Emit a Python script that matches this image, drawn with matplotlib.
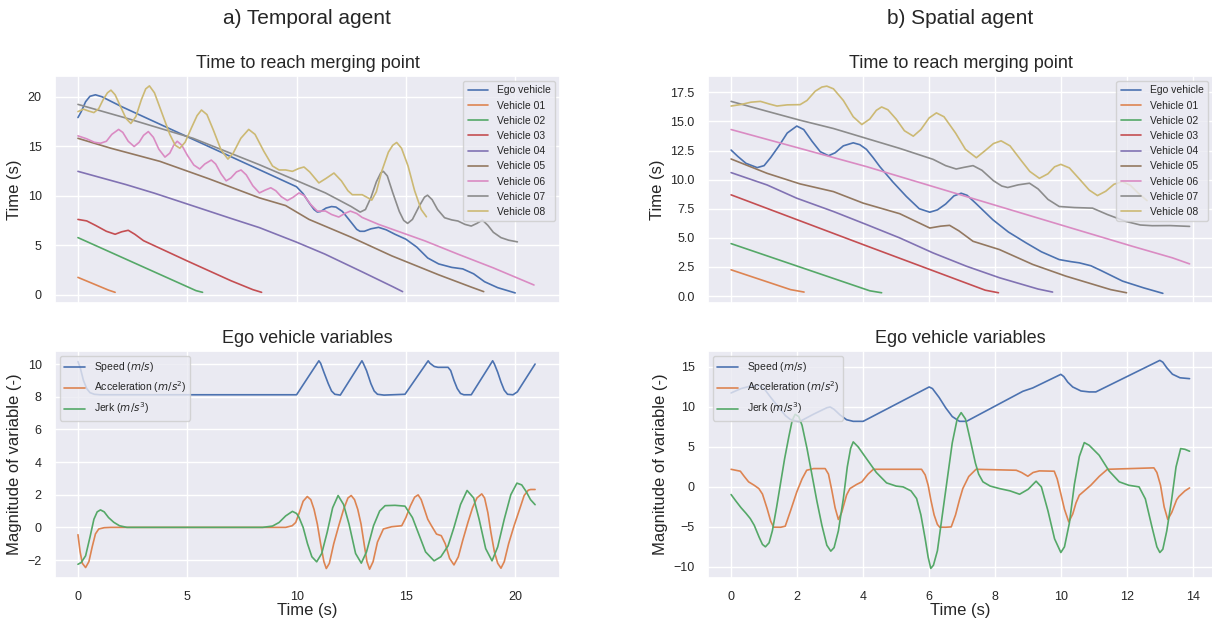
import matplotlib
matplotlib.use("Agg")
import matplotlib.pyplot as plt
import seaborn as sns

# ---- a) Temporal agent: time to reach merging point ----
TL_EGO_T = [0, 0.15, 0.35, 0.55, 0.8, 1.1, 1.5, 2, 4, 6, 8, 10.0, 10.3, 10.6, 10.8, 10.95, 11.1, 11.35, 11.6, 11.8, 12.1, 12.5, 12.75, 12.9, 13.1, 13.4, 13.75, 14.1, 14.5, 15.0, 15.5, 16.0, 16.5, 17.1, 17.6, 18.1, 18.6, 19.2, 20.0]
TL_EGO = [17.9, 18.5, 19.5, 20.05, 20.2, 20.0, 19.55, 19.0, 16.97, 14.95, 12.93, 10.9, 10.2, 9.2, 8.6, 8.35, 8.4, 8.75, 8.9, 8.85, 8.4, 7.3, 6.6, 6.4, 6.4, 6.65, 6.8, 6.55, 6.1, 5.6, 4.8, 3.7, 3.1, 2.75, 2.6, 2.1, 1.3, 0.7, 0.17]
TL_V01_T = [0, 1.4, 1.7]
TL_V01 = [1.74, 0.45, 0.23]
TL_V02_T = [0, 5.4, 5.7]
TL_V02 = [5.76, 0.4, 0.23]
TL_V03_T = [0, 0.4, 0.8, 1.3, 1.7, 2.0, 2.3, 2.6, 3.0, 5.0, 7.0, 8.0, 8.4]
TL_V03 = [7.6, 7.45, 7.0, 6.4, 6.1, 6.35, 6.5, 6.1, 5.45, 3.4, 1.4, 0.5, 0.23]
TL_V04_T = [0, 1, 2.2, 3.5, 5.3, 7, 8.3, 10, 11.3, 13, 14.4, 14.85]
TL_V04 = [12.46, 11.85, 11.12, 10.25, 8.94, 7.7, 6.77, 5.3, 4.09, 2.3, 0.8, 0.3]
TL_V05_T = [0, 1.5, 3.75, 6, 8.3, 9.5, 10.57, 12.5, 14.35, 16.5, 18.0, 18.56]
TL_V05 = [15.8, 14.8, 13.47, 11.7, 9.78, 9.0, 7.6, 5.8, 3.92, 2.0, 0.75, 0.3]
TL_V06_T = [0, 0.4, 0.75, 1.03, 1.3, 1.55, 1.86, 2.05, 2.3, 2.57, 2.8, 3.0, 3.22, 3.45, 3.7, 3.98, 4.2, 4.38, 4.54, 4.75, 5.0, 5.3, 5.57, 5.8, 6.1, 6.3, 6.55, 6.78, 7.0, 7.25, 7.46, 7.7, 8.0, 8.3, 8.55, 8.82, 9.05, 9.3, 9.58, 9.85, 10.11, 10.35, 10.65, 10.95, 11.32, 11.6, 11.93, 12.2, 12.46, 12.75, 13.0, 13.75, 15.87, 17.38, 19.0, 20.86]
TL_V06 = [16.05, 15.75, 15.4, 15.3, 15.5, 16.2, 16.7, 16.4, 15.5, 14.97, 15.4, 16.1, 16.48, 15.9, 14.7, 13.9, 14.3, 15.1, 15.5, 15.1, 14.1, 13.1, 12.7, 13.2, 13.6, 13.2, 12.2, 11.5, 11.8, 12.4, 12.6, 12.1, 11.0, 10.28, 10.55, 10.8, 10.5, 9.9, 9.51, 9.85, 10.28, 10.0, 9.1, 8.44, 8.45, 8.1, 7.84, 8.2, 8.44, 8.2, 7.8, 7.1, 5.43, 4.09, 2.7, 0.97]
TL_V07_T = [0, 2.24, 5.27, 8.3, 11.32, 12.5, 12.91, 13.15, 13.4, 13.65, 13.85, 13.97, 14.15, 14.4, 14.7, 14.9, 15.08, 15.3, 15.6, 15.85, 15.99, 16.2, 16.45, 16.77, 17.1, 17.38, 17.7, 17.99, 18.25, 18.5, 18.75, 19.0, 19.35, 19.7, 20.1]
TL_V07 = [19.23, 17.82, 15.8, 13.13, 10.28, 8.9, 8.34, 8.6, 9.8, 11.4, 12.3, 12.46, 12.0, 10.3, 8.4, 7.5, 7.2, 7.6, 8.9, 9.85, 10.05, 9.6, 8.6, 7.77, 7.55, 7.44, 7.1, 6.93, 7.2, 7.54, 7.0, 6.3, 5.76, 5.5, 5.33]
TL_V08_T = [0, 0.25, 0.5, 0.73, 0.95, 1.15, 1.35, 1.51, 1.7, 1.95, 2.2, 2.42, 2.65, 2.9, 3.1, 3.27, 3.5, 3.8, 4.2, 4.45, 4.66, 4.9, 5.2, 5.45, 5.65, 5.9, 6.2, 6.55, 6.86, 7.1, 7.45, 7.81, 8.1, 8.5, 8.9, 9.2, 9.5, 9.81, 10.1, 10.34, 10.6, 11.02, 11.35, 11.71, 12.05, 12.35, 12.55, 13.0, 13.25, 13.44, 13.65, 13.9, 14.2, 14.4, 14.58, 14.8, 15.1, 15.4, 15.7, 15.94]
TL_V08 = [18.5, 18.75, 18.55, 18.4, 18.8, 19.7, 20.4, 20.67, 20.2, 19.0, 17.8, 17.3, 18.0, 19.7, 20.8, 21.1, 20.4, 18.6, 16.2, 15.1, 14.8, 15.4, 16.9, 18.1, 18.66, 18.2, 16.6, 14.6, 13.7, 14.3, 15.8, 16.7, 16.2, 14.5, 13.0, 12.6, 12.6, 12.46, 12.75, 12.9, 12.4, 11.29, 11.75, 12.29, 11.5, 10.5, 10.1, 10.1, 9.8, 9.55, 10.4, 12.5, 14.4, 15.1, 15.38, 14.8, 13.0, 10.5, 8.6, 7.87]

# ---- b) Spatial agent: time to reach merging point ----
TR_EGO_T = [0, 0.2, 0.45, 0.79, 1.0, 1.2, 1.45, 1.7, 1.99, 2.2, 2.45, 2.7, 2.95, 3.15, 3.4, 3.7, 3.9, 4.1, 4.3, 4.51, 4.9, 5.31, 5.7, 6.02, 6.25, 6.5, 6.75, 6.97, 7.15, 7.4, 7.93, 8.4, 8.94, 9.4, 9.94, 10.3, 10.55, 10.9, 11.2, 11.86, 12.5, 13.08]
TR_EGO = [12.54, 12.0, 11.4, 11.03, 11.2, 11.9, 12.9, 14.0, 14.6, 14.3, 13.3, 12.4, 12.05, 12.3, 12.9, 13.16, 13.0, 12.6, 11.9, 11.1, 9.8, 8.55, 7.5, 7.2, 7.4, 7.9, 8.6, 8.83, 8.65, 8.0, 6.55, 5.5, 4.56, 3.8, 3.13, 2.95, 2.85, 2.6, 2.2, 1.28, 0.7, 0.23]
TR_V01_T = [0, 1.8, 2.21]
TR_V01 = [2.25, 0.55, 0.34]
TR_V02_T = [0, 4.2, 4.56]
TR_V02 = [4.5, 0.45, 0.28]
TR_V03_T = [0, 4.11, 7.7, 8.1]
TR_V03 = [8.69, 4.3, 0.5, 0.28]
TR_V04_T = [0, 1.09, 1.99, 3.1, 4.11, 5.11, 6.12, 7.13, 8.13, 9.3, 9.74]
TR_V04 = [10.6, 9.54, 8.4, 7.26, 6.13, 4.99, 3.7, 2.56, 1.57, 0.6, 0.34]
TR_V05_T = [0, 1.09, 2.09, 3.1, 4.0, 5.11, 6.02, 6.35, 6.62, 6.9, 7.33, 8.13, 9.14, 10.14, 11.5, 11.98]
TR_V05 = [11.77, 10.54, 9.63, 8.97, 7.98, 7.07, 5.84, 6.0, 6.07, 5.6, 4.7, 3.99, 2.71, 1.71, 0.55, 0.28]
TR_V06_T = [0, 2.09, 4.11, 6.12, 8.13, 10.14, 12.16, 13.37, 13.89]
TR_V06 = [14.3, 12.68, 11.11, 9.4, 7.69, 5.98, 4.27, 3.28, 2.76]
TR_V07_T = [0, 1.09, 2.09, 3.1, 4.11, 5.11, 6.12, 6.5, 6.82, 7.05, 7.33, 7.6, 7.95, 8.2, 8.38, 8.7, 9.04, 9.3, 9.6, 9.94, 10.4, 10.95, 11.4, 11.96, 12.4, 12.76, 13.3, 13.89]
TR_V07 = [16.72, 15.87, 15.1, 14.39, 13.53, 12.68, 11.74, 11.2, 10.91, 11.05, 11.2, 10.8, 9.9, 9.45, 9.32, 9.55, 9.69, 9.2, 8.3, 7.69, 7.6, 7.55, 7.0, 6.41, 6.1, 6.04, 6.05, 5.98]
TR_V08_T = [0, 0.3, 0.6, 0.89, 1.15, 1.39, 1.7, 2.09, 2.3, 2.55, 2.75, 2.9, 3.1, 3.4, 3.7, 3.96, 4.2, 4.4, 4.56, 4.75, 5.0, 5.25, 5.52, 5.75, 6.0, 6.22, 6.45, 6.8, 7.1, 7.43, 7.7, 7.95, 8.18, 8.45, 8.8, 9.05, 9.34, 9.6, 9.8, 9.99, 10.25, 10.6, 10.85, 11.1, 11.35, 11.6, 11.86, 12.1, 12.35, 12.6]
TR_V08 = [16.32, 16.45, 16.65, 16.72, 16.5, 16.32, 16.42, 16.44, 16.8, 17.6, 17.95, 18.03, 17.8, 16.8, 15.4, 14.73, 15.2, 15.95, 16.24, 16.0, 15.2, 14.2, 13.73, 14.3, 15.3, 15.73, 15.4, 14.0, 12.6, 11.88, 12.5, 13.1, 13.33, 12.9, 11.6, 10.7, 10.11, 10.5, 11.1, 11.31, 11.0, 9.9, 9.1, 8.63, 9.0, 9.6, 9.83, 9.5, 8.8, 8.2]

VEHICLE_LABELS = ["Ego vehicle", "Vehicle 01", "Vehicle 02", "Vehicle 03", "Vehicle 04",
                  "Vehicle 05", "Vehicle 06", "Vehicle 07", "Vehicle 08"]

# ---- a) Temporal agent: ego variables ----
BL_SPEED_T = [0, 0.1, 0.25, 0.4, 0.55, 0.75, 1.0, 10.0, 11.02, 11.1, 11.25, 11.45, 11.6, 11.75, 12.0, 12.99, 13.05, 13.2, 13.4, 13.55, 13.7, 14.0, 14.96, 16.02, 16.1, 16.3, 16.47, 16.93, 17.05, 17.2, 17.35, 17.5, 17.65, 17.99, 18.97, 19.05, 19.2, 19.35, 19.5, 19.65, 19.9, 20.1, 20.91]
BL_SPEED = [10.15, 9.8, 9.0, 8.5, 8.25, 8.15, 8.12, 8.12, 10.2, 10.05, 9.5, 8.8, 8.35, 8.15, 8.1, 10.2, 10.05, 9.6, 8.8, 8.35, 8.15, 8.1, 8.15, 10.2, 10.05, 9.85, 9.8, 9.8, 9.6, 9.0, 8.5, 8.2, 8.12, 8.12, 10.2, 10.0, 9.5, 8.9, 8.4, 8.15, 8.12, 8.3, 10.0]
BL_ACC_T = [0, 0.1, 0.2, 0.35, 0.5, 0.65, 0.8, 0.95, 1.2, 1.5, 9.5, 9.8, 9.96, 10.15, 10.3, 10.49, 10.65, 10.8, 10.95, 11.1, 11.25, 11.36, 11.5, 11.7, 11.93, 12.15, 12.35, 12.5, 12.65, 12.8, 12.95, 13.1, 13.22, 13.34, 13.5, 13.7, 13.97, 14.35, 14.81, 15.0, 15.2, 15.4, 15.56, 15.7, 15.85, 16.0, 16.17, 16.4, 16.62, 16.8, 17.0, 17.2, 17.4, 17.6, 17.84, 18.05, 18.25, 18.47, 18.6, 18.75, 18.89, 19.05, 19.2, 19.35, 19.5, 19.7, 19.95, 20.2, 20.41, 20.6, 20.71, 20.91]
BL_ACC = [-0.45, -1.5, -2.2, -2.46, -2.1, -1.2, -0.4, -0.1, -0.02, 0, 0, 0.1, 0.3, 1.0, 1.6, 1.89, 1.7, 1.1, 0.2, -1.0, -2.1, -2.52, -2.2, -1.0, 0.1, 1.1, 1.8, 1.95, 1.7, 1.1, 0.2, -1.1, -2.1, -2.56, -2.1, -0.9, -0.1, 0.04, 0.1, 0.6, 1.3, 1.85, 1.99, 1.7, 1.1, 0.5, 0.1, -0.41, -0.51, -1.0, -1.9, -2.3, -1.8, -0.8, 0.31, 1.2, 1.8, 2.05, 1.8, 0.9, -0.31, -1.5, -2.2, -2.5, -2.1, -1.0, 0.1, 1.1, 1.95, 2.28, 2.32, 2.32]
BL_JERK_T = [0, 0.15, 0.35, 0.55, 0.73, 0.88, 1.03, 1.2, 1.4, 1.64, 1.9, 2.24, 8.45, 8.9, 9.2, 9.5, 9.81, 10.0, 10.11, 10.3, 10.5, 10.7, 10.92, 11.15, 11.4, 11.65, 11.9, 12.15, 12.4, 12.7, 12.96, 13.2, 13.52, 13.8, 14.05, 14.5, 14.96, 15.3, 15.56, 15.9, 16.29, 16.6, 16.93, 17.2, 17.5, 17.8, 18.1, 18.35, 18.65, 18.94, 19.2, 19.5, 19.8, 20.08, 20.3, 20.5, 20.7, 20.91]
BL_JERK = [-2.26, -2.15, -1.74, -0.6, 0.5, 0.95, 1.07, 0.95, 0.6, 0.31, 0.1, 0, 0, 0.08, 0.3, 0.7, 0.98, 0.85, 0.62, 0.0, -1.0, -1.8, -2.11, -1.6, -0.3, 1.2, 1.95, 1.4, 0.2, -1.6, -2.19, -1.5, 0.1, 1.0, 1.33, 1.35, 1.3, 0.6, -0.31, -1.5, -2.05, -1.8, -1.13, 0.0, 1.4, 2.26, 1.8, 0.5, -1.3, -2.05, -1.2, 0.5, 2.0, 2.71, 2.6, 2.2, 1.7, 1.39]

# ---- b) Spatial agent: ego variables ----
BR_SPEED_T = [0, 0.3, 0.58, 0.84, 1.0, 1.2, 1.45, 1.65, 1.79, 2.0, 2.09, 2.5, 2.9, 3.0, 3.12, 3.3, 3.5, 3.7, 4.0, 6.0, 6.1, 6.3, 6.5, 6.7, 6.92, 7.13, 8.84, 9.14, 9.99, 10.08, 10.2, 10.35, 10.6, 10.85, 11.05, 12.99, 13.08, 13.2, 13.37, 13.6, 13.89]
BR_SPEED = [11.75, 12.3, 12.6, 12.7, 12.3, 11.2, 9.9, 8.9, 8.45, 8.2, 8.2, 9.1, 9.9, 10.0, 9.7, 9.0, 8.4, 8.2, 8.2, 12.5, 12.3, 11.2, 9.9, 8.8, 8.2, 8.2, 11.96, 12.38, 14.08, 13.8, 13.1, 12.5, 12.0, 11.88, 11.88, 15.83, 15.6, 14.9, 14.1, 13.65, 13.54]
BR_ACC_T = [0, 0.28, 0.4, 0.53, 0.7, 0.84, 0.95, 1.09, 1.2, 1.29, 1.5, 1.64, 1.8, 1.99, 2.15, 2.29, 2.5, 2.85, 2.95, 3.05, 3.15, 3.25, 3.35, 3.5, 3.6, 3.8, 3.96, 4.15, 4.31, 5.77, 5.88, 5.97, 6.05, 6.15, 6.25, 6.32, 6.5, 6.67, 6.8, 6.92, 7.02, 7.2, 7.42, 8.64, 8.8, 8.99, 9.15, 9.34, 9.79, 9.88, 9.98, 10.1, 10.23, 10.35, 10.45, 10.55, 10.9, 11.15, 11.4, 12.81, 12.9, 13.01, 13.12, 13.23, 13.35, 13.5, 13.57, 13.75, 13.89]
BR_ACC = [2.2, 1.96, 1.3, 0.63, 0.2, -0.21, -0.9, -2.7, -4.3, -5.04, -5.05, -4.92, -3.0, -0.63, 1.0, 2.08, 2.29, 2.29, 1.6, -0.4, -2.6, -4.08, -3.2, -1.0, -0.21, 0.3, 0.63, 1.6, 2.2, 2.2, 1.5, 0.2, -1.6, -3.5, -4.7, -5.04, -5.05, -5.0, -3.5, -1.6, -0.21, 1.3, 2.2, 2.08, 1.8, 1.33, 1.8, 2.0, 1.96, 1.0, -0.7, -2.8, -4.38, -3.4, -2.0, -1.04, 0.21, 1.3, 2.2, 2.38, 1.8, 0.21, -2.5, -4.08, -3.2, -1.6, -1.2, -0.5, -0.13]
BR_JERK_T = [0, 0.15, 0.3, 0.45, 0.58, 0.7, 0.85, 0.95, 1.04, 1.15, 1.25, 1.38, 1.5, 1.62, 1.75, 1.85, 1.94, 2.05, 2.15, 2.3, 2.45, 2.6, 2.75, 2.9, 3.02, 3.12, 3.25, 3.4, 3.52, 3.62, 3.7, 3.85, 4.1, 4.4, 4.71, 5.0, 5.21, 5.45, 5.62, 5.75, 5.88, 5.97, 6.05, 6.13, 6.25, 6.4, 6.55, 6.7, 6.85, 6.97, 7.1, 7.25, 7.4, 7.5, 7.63, 7.85, 8.13, 8.45, 8.74, 9.0, 9.24, 9.4, 9.6, 9.8, 9.99, 10.1, 10.25, 10.4, 10.55, 10.7, 10.85, 11.15, 11.45, 11.76, 12.05, 12.36, 12.55, 12.75, 12.9, 12.99, 13.08, 13.2, 13.35, 13.48, 13.62, 13.75, 13.89]
BR_JERK = [-0.96, -1.8, -2.6, -3.3, -3.96, -4.8, -6.3, -7.2, -7.5, -7.0, -5.5, -2.5, 0.5, 3.5, 6.3, 8.3, 9.08, 8.8, 7.7, 4.8, 1.5, -1.8, -4.8, -7.3, -8.04, -7.6, -5.5, -1.5, 2.5, 4.8, 5.63, 5.0, 3.54, 1.8, 0.5, 0.1, 0.0, -0.5, -1.46, -3.5, -6.5, -8.8, -10.2, -9.8, -8.0, -3.5, 1.0, 5.5, 8.5, 9.29, 8.5, 5.8, 3.0, 1.6, 0.63, 0.1, -0.21, -0.5, -0.92, -0.3, 0.71, 0.0, -3.0, -6.5, -8.21, -7.5, -4.5, 0.3, 3.8, 5.54, 5.2, 3.96, 2.0, 0.63, 0.2, 0.0, -1.5, -5.0, -7.5, -8.21, -7.8, -5.5, -1.5, 2.5, 4.79, 4.7, 4.46]

EGO_LABELS = ["Speed ($m/s$)", "Acceleration ($m/s^2$)", "Jerk ($m/s^3$)"]

sns.set_theme(style="darkgrid")
plt.rcParams["font.family"] = ["Liberation Sans", "DejaVu Sans"]

fig = plt.figure(figsize=(12.12, 6.2), dpi=100)
W, H = 1212, 620


def px_axes(left, top, right, bottom):
    return fig.add_axes([left / W, 1 - bottom / H, (right - left) / W, (bottom - top) / H])


ax_tl = px_axes(55, 76, 560, 303)
ax_bl = px_axes(55, 351, 560, 578)
ax_tr = px_axes(708, 76, 1213, 303)
ax_br = px_axes(708, 351, 1213, 578)

palette = sns.color_palette("deep")
lw = 1.2

tl_series = [(TL_EGO_T, TL_EGO), (TL_V01_T, TL_V01), (TL_V02_T, TL_V02), (TL_V03_T, TL_V03),
             (TL_V04_T, TL_V04), (TL_V05_T, TL_V05), (TL_V06_T, TL_V06), (TL_V07_T, TL_V07),
             (TL_V08_T, TL_V08)]
tr_series = [(TR_EGO_T, TR_EGO), (TR_V01_T, TR_V01), (TR_V02_T, TR_V02), (TR_V03_T, TR_V03),
             (TR_V04_T, TR_V04), (TR_V05_T, TR_V05), (TR_V06_T, TR_V06), (TR_V07_T, TR_V07),
             (TR_V08_T, TR_V08)]
bl_series = [(BL_SPEED_T, BL_SPEED), (BL_ACC_T, BL_ACC), (BL_JERK_T, BL_JERK)]
br_series = [(BR_SPEED_T, BR_SPEED), (BR_ACC_T, BR_ACC), (BR_JERK_T, BR_JERK)]

for ax, series in [(ax_tl, tl_series), (ax_tr, tr_series)]:
    for i, ((t, v), lab) in enumerate(zip(series, VEHICLE_LABELS)):
        ax.plot(t, v, color=palette[i], lw=lw, label=lab)
    ax.set_title("Time to reach merging point", fontsize=13)
    ax.set_ylabel("Time (s)", fontsize=12)
    ax.legend(loc="upper right", fontsize=7.5)
    ax.tick_params(labelbottom=False, labelsize=9)

for ax, series in [(ax_bl, bl_series), (ax_br, br_series)]:
    for i, ((t, v), lab) in enumerate(zip(series, EGO_LABELS)):
        ax.plot(t, v, color=palette[i], lw=lw, label=lab)
    ax.set_title("Ego vehicle variables", fontsize=13)
    ax.set_xlabel("Time (s)", fontsize=12, labelpad=0)
    ax.legend(loc="upper left", fontsize=7.5)
    ax.tick_params(labelsize=9)

ax_bl.set_ylabel("Magnitude of variable (-)", fontsize=12)
ax_br.set_ylabel("Magnitude of variable (-)", fontsize=12)

for ax in (ax_tl, ax_bl):
    ax.set_xlim(-1.05, 22.05)
    ax.set_xticks([0, 5, 10, 15, 20])
for ax in (ax_tr, ax_br):
    ax.set_xlim(-0.7, 14.6)
    ax.set_xticks([0, 2, 4, 6, 8, 10, 12, 14])

ax_tl.set_ylim(-0.85, 22.1)
ax_tl.set_yticks([0, 5, 10, 15, 20])
ax_tr.set_ylim(-0.6, 18.9)
ax_tr.set_yticks([0, 2.5, 5, 7.5, 10, 12.5, 15, 17.5])
ax_tr.set_yticklabels(["0.0", "2.5", "5.0", "7.5", "10.0", "12.5", "15.0", "17.5"])
ax_bl.set_ylim(-3.1, 10.8)
ax_bl.set_yticks([-2, 0, 2, 4, 6, 8, 10])
ax_br.set_ylim(-11.4, 17.0)
ax_br.set_yticks([-10, -5, 0, 5, 10, 15])

fig.text(307 / W, 1 - 18 / H, "a) Temporal agent", ha="center", va="center", fontsize=15)
fig.text(960 / W, 1 - 18 / H, "b) Spatial agent", ha="center", va="center", fontsize=15)

fig.savefig("out.png", dpi=100)
